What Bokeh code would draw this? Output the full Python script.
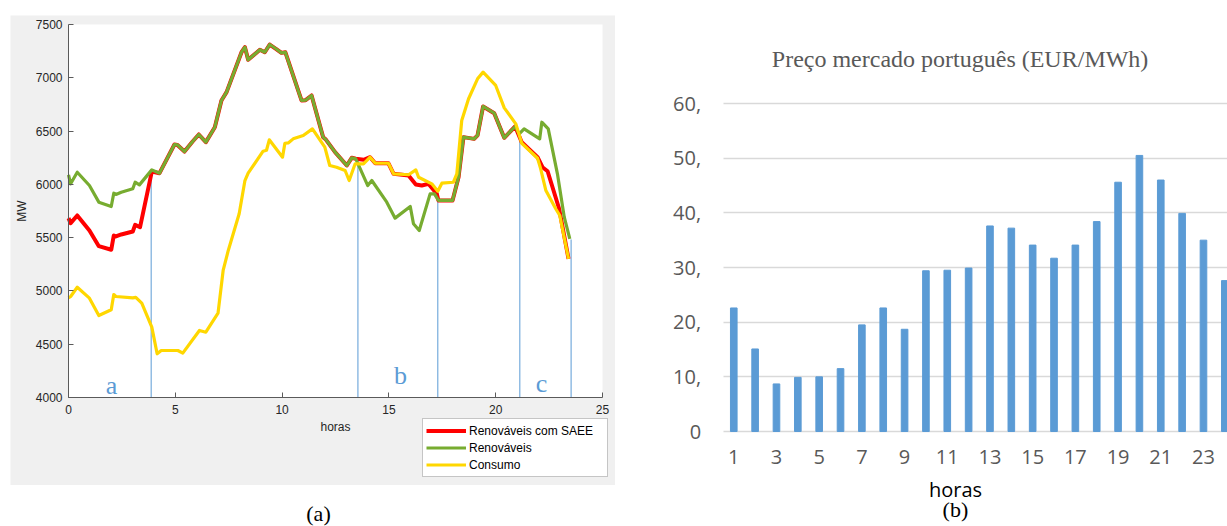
from bokeh.plotting import figure
from bokeh.layouts import row, column
from bokeh.models import (Spacer, Legend, LegendItem, FixedTicker, Range1d, Label,
                          BoxAnnotation, Grid)
from bokeh.core.properties import value
from bokeh.embed import file_html
from bokeh.resources import INLINE

# ---------------- (a) potência ao longo do dia ----------------
ren_h = [0.00, 0.10, 0.41, 0.98, 1.42, 2.00, 2.12, 2.22, 2.47, 3.01, 3.12, 3.32,
         3.90, 4.26, 4.96, 5.10, 5.43, 5.80, 6.10, 6.43, 6.85, 7.16, 7.40, 8.10,
         8.26, 8.41, 8.96, 9.19, 9.42, 9.71, 9.97, 10.15, 10.91, 11.10, 11.38,
         11.92, 12.05, 12.48, 13.03, 13.26, 13.45, 14.01, 14.20, 14.90, 15.29,
         16.00, 16.15, 16.42, 16.93, 17.13, 17.32, 17.98, 18.26, 18.49, 18.99,
         19.15, 19.41, 19.93, 20.40, 20.91, 21.10, 21.33, 22.06, 22.16, 22.46,
         22.89, 23.21, 23.47]
ren_mw = [6090, 6005, 6114, 5989, 5833, 5792, 5917, 5905, 5926, 5958, 6020, 5995,
          6136, 6105, 6374, 6370, 6308, 6400, 6468, 6396, 6536, 6787, 6865, 7240,
          7287, 7169, 7263, 7240, 7312, 7272, 7234, 7240, 6787, 6790, 6834,
          6443, 6420, 6302, 6177, 6249, 6240, 5989, 6036, 5833, 5683,
          5792, 5630, 5567, 5911, 5911, 5849, 5849, 6067, 6443, 6427,
          6460, 6731, 6668, 6437, 6543, 6474, 6521, 6427, 6583, 6521,
          6099, 5692, 5489]

saee_h = [0.00, 0.10, 0.41, 0.98, 1.42, 2.00, 2.12, 2.22, 2.47, 3.01, 3.12, 3.35,
          3.90, 4.26, 4.96, 5.10, 5.43, 5.80, 6.10, 6.43, 6.85, 7.16, 7.40, 8.10,
          8.26, 8.41, 8.96, 9.19, 9.42, 9.71, 9.97, 10.15, 10.91, 11.10, 11.38,
          11.92, 12.05, 12.48, 13.03, 13.26, 13.45, 13.82, 14.12, 14.36, 14.98,
          15.22, 15.92, 16.26, 16.54, 16.85, 17.24, 17.32, 17.98, 18.26, 18.49,
          18.99, 19.15, 19.41, 19.93, 20.40, 20.91, 21.22, 21.96, 22.19, 22.43,
          22.97, 23.41]
saee_mw = [5683, 5636, 5708, 5567, 5420, 5386, 5520, 5511, 5530, 5558, 5620, 5598,
           6120, 6105, 6374, 6370, 6308, 6400, 6468, 6396, 6536, 6787, 6865, 7240,
           7287, 7169, 7263, 7240, 7312, 7272, 7234, 7240, 6787, 6790, 6834,
           6443, 6420, 6302, 6177, 6249, 6240, 6230, 6255, 6198, 6198,
           6099, 6083, 5999, 5989, 6005, 5911, 5849, 5849, 6067, 6443,
           6427, 6460, 6731, 6668, 6437, 6543, 6396, 6255, 6161, 6123,
           5771, 5301]

cons_h = [0.00, 0.10, 0.41, 0.98, 1.42, 2.00, 2.12, 2.22, 3.01, 3.15, 3.43, 3.90,
          4.15, 4.34, 5.12, 5.35, 6.13, 6.43, 7.00, 7.24, 7.48, 7.99, 8.26, 8.41,
          9.11, 9.27, 9.40, 10.02, 10.13, 10.30, 10.52, 10.99, 11.42, 12.00, 12.23,
          12.55, 12.95, 13.14, 13.42, 13.81, 14.12, 14.36, 14.98, 15.22, 15.92,
          16.26, 16.39, 17.01, 17.29, 17.48, 18.02, 18.18, 18.41, 18.73, 19.15,
          19.41, 20.00, 20.40, 20.94, 21.22, 21.96, 22.10, 22.35, 22.81, 23.00, 23.41]
cons_mw = [4935, 4948, 5035, 4932, 4769, 4823, 4966, 4948, 4935, 4940, 4885, 4660,
           4410, 4441, 4441, 4416, 4629, 4613, 4791, 5192, 5380, 5724, 6036, 6105,
           6311, 6320, 6418, 6255, 6386, 6390, 6427, 6458, 6521, 6349, 6177,
           6161, 6130, 6036, 6193, 6193, 6255, 6198, 6198, 6099, 6090,
           6136, 6067, 6005, 5936, 6011, 6020, 6099, 6599, 6803, 6990,
           7053, 6928, 6718, 6568, 6386, 6245, 6150, 5942, 5771, 5708, 5301]

# limites dos períodos a, b, c
limites_h = [3.87, 13.55, 17.29, 21.13, 23.53]
limites_mw = [6130, 6215, 5926, 6490, 5483]
periodos = ["a", "b", "c"]
periodos_h = [2.01, 15.54, 22.14]
periodos_mw = [4113, 4206, 4131]

x_ticks_a = [0, 5, 10, 15, 20, 25]
y_ticks_a = [4000, 4500, 5000, 5500, 6000, 6500, 7000, 7500]

# ---------------- (b) preço de mercado ----------------
horas_b = list(range(1, 25))
preco = [22.6, 15.1, 8.7, 9.9, 10.0, 11.5, 19.5, 22.6, 18.7, 29.4, 29.5, 29.9,
         37.6, 37.2, 34.1, 31.7, 34.1, 38.4, 45.6, 50.5, 46.0, 39.9, 35.0, 27.6]
x_ticks_b = list(range(1, 24, 2))
y_ticks_b = [0, 10, 20, 30, 40, 50, 60]
y_labels_b = {0: "0", 10: "10,", 20: "20,", 30: "30,", 40: "40,", 50: "50,", 60: "60,"}

SANS = "Liberation Sans"
SERIF = "Liberation Serif"
AZUL = "#5B9BD5"

# ---- painel (a): the frame fills the grey figure area, axes sit at fixed locations
PA_W, PA_H = 605, 470
ax_l, ax_r, ax_t, ax_b = 58, 592, 9, 382          # axes box inside the grey area (px)
xa0, xa1 = x_ticks_a[0], x_ticks_a[-1]
ya0, ya1 = y_ticks_a[0], y_ticks_a[-1]
sx = (ax_r - ax_l) / (xa1 - xa0)
sy = (ax_b - ax_t) / (ya1 - ya0)
pa = figure(width=PA_W, height=PA_H,
            x_range=Range1d(xa0 - ax_l / sx, xa1 + (PA_W - ax_r) / sx),
            y_range=Range1d(ya0 - (PA_H - ax_b) / sy, ya1 + ax_t / sy),
            output_backend="svg", toolbar_location=None, min_border=0,
            background_fill_color="#F0F0F0", border_fill_color="#F0F0F0",
            outline_line_color=None)
pa.xgrid.visible = False
pa.ygrid.visible = False
pa.add_layout(BoxAnnotation(left=xa0, right=xa1, bottom=ya0, top=ya1,
                            fill_color="white", fill_alpha=1.0, line_color=None,
                            level="underlay"))
pa.xaxis.fixed_location = ya0
pa.yaxis.fixed_location = xa0
pa.xaxis.bounds = (xa0, xa1)
pa.yaxis.bounds = (ya0, ya1)
for ax in (pa.xaxis[0], pa.yaxis[0]):
    ax.axis_line_color = "#5A5A5A"
    ax.major_tick_line_color = "#5A5A5A"
    ax.major_tick_in = 5
    ax.major_tick_out = 0
    ax.minor_tick_line_color = None
    ax.major_label_text_font = SANS
    ax.major_label_text_font_size = "12px"
    ax.major_label_text_color = "#262626"
    ax.axis_label_text_font = SANS
    ax.axis_label_text_font_size = "12px"
    ax.axis_label_text_font_style = "normal"
    ax.axis_label_text_color = "#262626"
pa.xaxis.ticker = FixedTicker(ticks=x_ticks_a)
pa.yaxis.ticker = FixedTicker(ticks=y_ticks_a)
pa.xaxis.axis_label = "horas"
pa.yaxis.axis_label = "MW"
pa.xaxis.major_label_standoff = 7
pa.xaxis.axis_label_standoff = 3
pa.yaxis.major_label_standoff = 6
pa.yaxis.axis_label_standoff = 4

pa.segment(x0=limites_h, y0=[ya0] * len(limites_h), x1=limites_h, y1=limites_mw,
           line_color=AZUL, line_width=1)
r_saee = pa.line(saee_h, saee_mw, line_color="#FF0000", line_width=4.0, line_join="round")
r_ren = pa.line(ren_h, ren_mw, line_color="#77AC30", line_width=3.2, line_join="round")
r_cons = pa.line(cons_h, cons_mw, line_color="#FFD700", line_width=3.2, line_join="round")
pa.text(x=periodos_h, y=periodos_mw, text=periodos, text_font=value(SERIF),
        text_font_size="26px", text_color=AZUL, text_align="center",
        text_baseline="alphabetic")

legend = Legend(items=[LegendItem(label="Renováveis com SAEE", renderers=[r_saee]),
                       LegendItem(label="Renováveis", renderers=[r_ren]),
                       LegendItem(label="Consumo", renderers=[r_cons])],
                location=(412, 8), orientation="vertical",
                label_text_font=SANS, label_text_font_size="12px",
                label_text_color="#000000", glyph_width=40, glyph_height=17,
                label_height=17, label_width=135, label_standoff=3, spacing=0,
                padding=3, margin=0, border_line_color="#8C8C8C",
                border_line_width=1, background_fill_color="white",
                background_fill_alpha=1.0)
pa.add_layout(legend)

cap_a = figure(width=627, height=41, x_range=Range1d(0, 1), y_range=Range1d(0, 1),
               output_backend="svg", toolbar_location=None, x_axis_type=None,
               y_axis_type=None, min_border=0, outline_line_color=None)
cap_a.add_layout(Label(x=318, y=13, x_units="screen", y_units="screen", text="(a)",
                       text_font=SERIF, text_font_size="22px",
                       text_color="#000000", text_align="center",
                       text_baseline="middle"))

# ---- painel (b): frame fills the canvas, axes at fixed locations
PB_W, PB_H = 600, 526
bx_l, bx_r, by_t, by_b = 95.6, 600.0, 103.0, 431.0   # plot area (px)
xb0, xb1 = 0.5, 0.5 + (bx_r - bx_l) / 21.35
yb0, yb1 = y_ticks_b[0], y_ticks_b[-1]
sxb = (bx_r - bx_l) / (xb1 - xb0)
syb = (by_b - by_t) / (yb1 - yb0)
pb = figure(width=PB_W, height=PB_H,
            x_range=Range1d(xb0 - bx_l / sxb, xb1 + (PB_W - bx_r) / sxb),
            y_range=Range1d(yb0 - (PB_H - by_b) / syb, yb1 + by_t / syb),
            output_backend="svg", toolbar_location=None, min_border=0,
            background_fill_color="white", border_fill_color="white",
            outline_line_color=None)
pb.xgrid.visible = False
pb.ygrid.visible = False
grid_kw = dict(dimension=1, ticker=FixedTicker(ticks=y_ticks_b),
               grid_line_color="#D9D9D9", grid_line_width=1.4)
if "cross_bounds" in Grid.properties():
    pb.add_layout(Grid(cross_bounds=(xb0, xb1), **grid_kw))
else:
    pb.segment(x0=xb0, x1=xb1, y0=y_ticks_b, y1=y_ticks_b,
               line_color="#D9D9D9", line_width=1.4)
pb.vbar(x=horas_b, top=preco, width=0.31, color=AZUL)
pb.yaxis.ticker = FixedTicker(ticks=y_ticks_b)
pb.yaxis.major_label_overrides = y_labels_b
pb.xaxis.ticker = FixedTicker(ticks=x_ticks_b)
pb.xaxis.fixed_location = yb0
pb.yaxis.fixed_location = xb0
pb.xaxis.bounds = (xb0, xb1)
pb.yaxis.bounds = (yb0, yb1)
for ax in (pb.xaxis[0], pb.yaxis[0]):
    ax.axis_line_color = None
    ax.major_tick_line_color = None
    ax.major_tick_in = 0
    ax.major_tick_out = 0
    ax.minor_tick_line_color = None
    ax.major_label_text_font = "Open Sans"
    ax.major_label_text_font_size = "20px"
    ax.major_label_text_color = "#595959"
pb.yaxis.major_label_standoff = 22
pb.xaxis.major_label_standoff = 18
# axis title of the category axis, centred under the visible bars
pb.add_layout(Label(x=11.385, y=-10.6, text="horas", text_font="Open Sans",
                    text_font_size="20px", text_color="#000000", text_align="center",
                    text_baseline="middle"))
pb.add_layout(Label(x=11.6, y=68.2, text="Preço mercado português (EUR/MWh)",
                    text_font=SERIF, text_font_size="24px",
                    text_color="#595959", text_align="center", text_baseline="middle"))
pb.add_layout(Label(x=11.38, y=-14.3, text="(b)", text_font=SERIF,
                    text_font_size="22px", text_color="#000000", text_align="center",
                    text_baseline="middle"))

left = column(Spacer(width=627, height=15),
              row(Spacer(width=10, height=PA_H), pa, Spacer(width=12, height=PA_H)),
              cap_a)
page = row(left, pb)

open("out.html", "w").write(file_html(page, INLINE))
